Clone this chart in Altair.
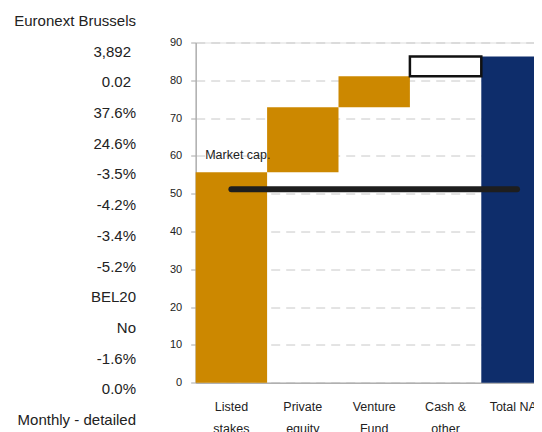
import altair as alt
import pandas as pd

FONT = "Liberation Sans"

# ---- data ----
categories = ["Listed\nstakes", "Private\nequity", "Venture\nFund", "Cash &\nother", "Total NAV"]
step_values = [55.7, 17.2, 8.2, 5.2]          # contributions
total_nav = 86.3
market_cap = 51.2
market_cap_label_at = 60.2
bar_kind = ["stake", "stake", "stake", "cash", "total"]

row_labels = ["Euronext Brussels", "3,892", "0.02", "37.6%", "24.6%", "-3.5%", "-4.2%",
              "-3.4%", "-5.2%", "BEL20", "No", "-1.6%", "0.0%", "Monthly - detailed"]
row_group = ["a", "b", "b", "a", "a", "a", "a", "a", "a", "a", "a", "a", "a", "a"]

y_ticks = [0, 10, 20, 30, 40, 50, 60, 70, 80, 90]

# ---- build tables ----
starts, ends = [], []
run = 0.0
for v in step_values:
    starts.append(run)
    run += v
    ends.append(run)
starts.append(0.0)
ends.append(total_nav)

bars = pd.DataFrame({"cat": categories, "start": starts, "end": ends, "kind": bar_kind})
rows = pd.DataFrame({"label": row_labels, "i": list(range(len(row_labels))), "grp": row_group})
mc = pd.DataFrame({"a": [categories[0]], "b": [categories[-1]], "v": [market_cap]})
mc_text = pd.DataFrame({"v": [market_cap_label_at], "t": ["Market cap."]})

PAD_L, PAD_T = 187.7, 34.5
H = 340.2
W = 526 - PAD_L
PAD_B = 424 - PAD_T - H
BAND = 357.0

xscale = alt.Scale(domain=categories, range=[0, BAND], paddingInner=0, paddingOuter=0)
yscale = alt.Scale(domain=[0, 90], nice=False, zero=True)
row_scale = alt.Scale(type="point", range=[-21.5, 377.5], padding=0,
                      domain=list(range(len(row_labels))))

base = alt.Chart(bars)

bar_layer = base.mark_bar().encode(
    x=alt.X("cat:N", scale=xscale, sort=categories, title=None,
            axis=alt.Axis(labelExpr="split(datum.label, '\\n')", ticks=False,
                          labelAngle=0, labelFontSize=12.5, labelLineHeight=22,
                          labelPadding=18, domainColor="#b0b0b0", domainWidth=1.5,
                          labelColor="#222222", labelFont=FONT, labelBaseline="top")),
    y=alt.Y("start:Q", scale=yscale, title=None,
            axis=alt.Axis(values=y_ticks, tickSize=5, tickColor="#a8a8a8",
                          domainColor="#b0b0b0", domainWidth=1.5,
                          labelFontSize=11, labelPadding=9, labelColor="#222222",
                          labelFont=FONT, grid=True, gridColor="#c8c8c8",
                          gridDash=[9, 6], gridWidth=1)),
    y2="end:Q",
    color=alt.Color("kind:N", legend=None,
                    scale=alt.Scale(domain=["stake", "cash", "total"],
                                    range=["#CC8800", "#FFFFFF", "#0E2D6B"])),
).transform_filter("datum.kind != 'cash'")

cash_layer = base.mark_bar(fill="white", stroke="#111111", strokeWidth=2.5).encode(
    x=alt.X("cat:N", scale=xscale, sort=categories),
    y=alt.Y("start:Q", scale=yscale, axis=None),
    y2="end:Q",
).transform_filter("datum.kind == 'cash'")

rule_layer = alt.Chart(mc).mark_rule(color="#1e1e1e", strokeWidth=6, strokeCap="round").encode(
    x=alt.X("a:N", scale=xscale, sort=categories),
    x2="b:N",
    y=alt.Y("v:Q", scale=yscale, axis=None),
)

mc_layer = alt.Chart(mc_text).mark_text(align="left", baseline="middle", fontSize=12.5,
                                         font=FONT, color="#222222", dx=9.5).encode(
    x=alt.value(0),
    y=alt.Y("v:Q", scale=yscale, axis=None),
    text="t:N",
)

rows_layer = alt.Chart(rows).mark_text(align="right", baseline="middle", fontSize=15,
                                        font=FONT, color="#222222").encode(
    x=alt.value(-59.7),
    y=alt.Y("i:O", axis=None, scale=row_scale),
    text="label:N",
).transform_filter("datum.grp == 'a'")

rows_layer2 = alt.Chart(rows).mark_text(align="right", baseline="middle", fontSize=15,
                                         font=FONT, color="#222222", dx=-5).encode(
    x=alt.value(-59.7),
    y=alt.Y("i:O", axis=None, scale=row_scale),
    text="label:N",
).transform_filter("datum.grp == 'b'")

chart = alt.layer(bar_layer, cash_layer, rule_layer, mc_layer, rows_layer, rows_layer2).resolve_scale(
    y="independent"
).properties(
    width=W, height=H,
    autosize=alt.AutoSizeParams(type="none"),
    padding={"left": PAD_L, "top": PAD_T, "right": 0, "bottom": PAD_B},
).configure_view(stroke=None).configure(font=FONT)

chart.save("out.html", embed_options={"renderer": "svg", "actions": False})
